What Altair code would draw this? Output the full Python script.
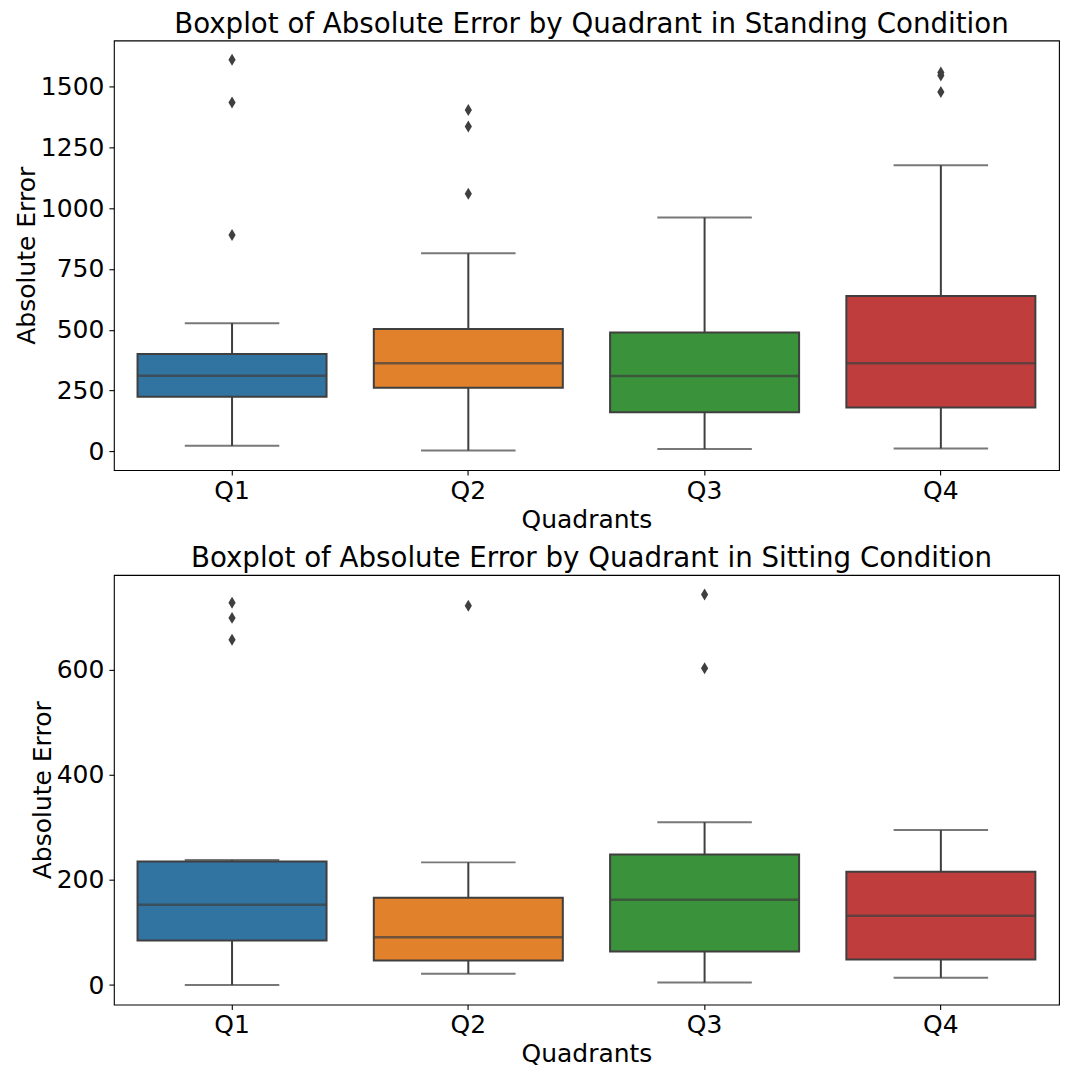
import altair as alt
import pandas as pd

quadrants = ["Q1", "Q2", "Q3", "Q4"]
colors = ["#3274a1", "#e1812c", "#3a923a", "#c03d3e"]

# Standing condition box statistics
stand_low = [23, 4, 10, 12]
stand_q1 = [225, 262, 161, 180]
stand_med = [311, 362, 310, 362]
stand_q3 = [400, 503, 489, 639]
stand_high = [527, 814, 961, 1176]
stand_out = {"Q1": [889, 1434, 1609], "Q2": [1059, 1335, 1403], "Q3": [], "Q4": [1477, 1545, 1557]}

# Sitting condition box statistics
sit_low = [0, 21.5, 5, 14]
sit_q1 = [84.7, 46.7, 64, 48.6]
sit_med = [153, 91, 162.5, 132]
sit_q3 = [235.4, 166, 248.7, 215.7]
sit_high = [238, 233.5, 310, 295]
sit_out = {"Q1": [657.5, 699, 727.7], "Q2": [722], "Q3": [603, 743.5], "Q4": []}

FONT = "DejaVu Sans"
GRAY = "#3f3f3f"
W = 946


def panel(title, low, q1, med, q3, high, outs, domain, ticks, h):
    box = pd.DataFrame({"Quadrants": quadrants, "low": low, "q1": q1, "med": med, "q3": q3, "high": high})
    out = pd.DataFrame([{"Quadrants": k, "v": v} for k, vs in outs.items() for v in vs])
    x = alt.X("Quadrants:N", sort=quadrants, scale=alt.Scale(paddingInner=0, paddingOuter=0),
              axis=alt.Axis(labelAngle=0, title="Quadrants"))
    yscale = alt.Scale(domain=domain, nice=False, zero=False)
    yaxis = alt.Axis(values=ticks, title="Absolute Error", format="d")
    base = alt.Chart(box)
    whisk = base.mark_rule(color=GRAY, strokeWidth=2).encode(
        x=x, y=alt.Y("low:Q", scale=yscale, axis=yaxis), y2="high:Q")
    bars = base.mark_bar(width=alt.RelativeBandSize(0.8), stroke=GRAY, strokeWidth=2, opacity=1).encode(
        x=x, y=alt.Y("q1:Q", scale=yscale), y2="q3:Q",
        color=alt.Color("Quadrants:N", scale=alt.Scale(domain=quadrants, range=colors), legend=None))
    medt = base.mark_tick(color=GRAY, thickness=2.5, size=W / 4 * 0.8).encode(
        x=x, y=alt.Y("med:Q", scale=yscale))
    capl = base.mark_tick(color=GRAY, thickness=2, size=W / 4 * 0.4).encode(
        x=x, y=alt.Y("low:Q", scale=yscale))
    caph = base.mark_tick(color=GRAY, thickness=2, size=W / 4 * 0.4).encode(
        x=x, y=alt.Y("high:Q", scale=yscale))
    pts = alt.Chart(out).mark_point(shape="M0,-1L0.6,0L0,1L-0.6,0Z", filled=True, color=GRAY,
                                    size=144, opacity=1).encode(
        x=x, y=alt.Y("v:Q", scale=yscale))
    return alt.layer(whisk, bars, medt, capl, caph, pts).properties(
        width=W, height=h,
        title=alt.TitleParams(title, fontSize=27.7, font=FONT, fontWeight="normal", color="black",
                              anchor="middle", offset=2, dx=5))


top = panel("Boxplot of Absolute Error by Quadrant in Standing Condition",
            stand_low, stand_q1, stand_med, stand_q3, stand_high, stand_out,
            [-76.6, 1688.5], [0, 250, 500, 750, 1000, 1250, 1500], 430)
bottom = panel("Boxplot of Absolute Error by Quadrant in Sitting Condition",
               sit_low, sit_q1, sit_med, sit_q3, sit_high, sit_out,
               [-37.2, 780.7], [0, 200, 400, 600], 430)

chart = alt.vconcat(top, bottom, spacing=11).properties(
    padding={"left": 5, "top": 1, "right": 0, "bottom": 0}
).configure_view(stroke="black", strokeWidth=1.1).configure_axis(
    grid=False, domain=False, labelFont=FONT, titleFont=FONT, labelFontSize=25, titleFontSize=25,
    labelColor="black", titleColor="black", titleFontWeight="normal", tickColor="black",
    tickWidth=1.1, tickSize=5
).configure_axisY(labelPadding=5, titlePadding=1).configure_axisX(labelPadding=3, titlePadding=4)

chart.save("out.html", embed_options={"renderer": "svg", "actions": False})
